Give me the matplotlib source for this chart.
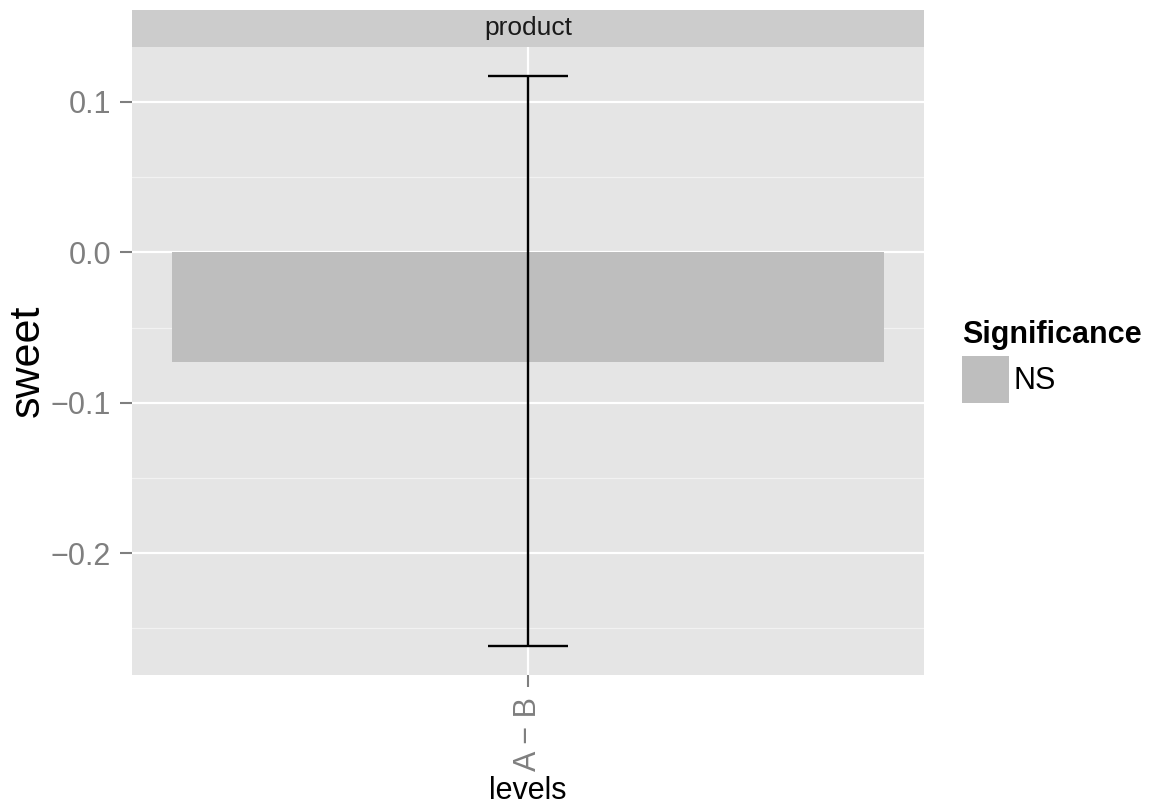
import matplotlib.pyplot as plt
import numpy as np
from matplotlib.ticker import FixedLocator, FuncFormatter

plt.rcParams['font.family'] = ['Liberation Sans', 'DejaVu Sans']

# contrast estimate with its confidence interval
levels = ["A \u2212 B"]
diffs = np.array([-0.0728])
ci_low = np.array([-0.262])
ci_high = np.array([0.1175])
signif = ["NS"]
sig_colors = {"NS": "#BEBEBE"}

W, H = 1156, 807
fig = plt.figure(figsize=(W / 100, H / 100), dpi=100)
ax = fig.add_axes([132 / W, 1 - 675 / H, (924 - 132) / W, (675 - 47) / H])
strip = fig.add_axes([132 / W, 1 - 47 / H, (924 - 132) / W, 37 / H])

x = np.arange(1, len(levels) + 1)
bars = ax.bar(x, diffs, width=0.9, color=[sig_colors[s] for s in signif],
              label=signif[0], zorder=2)
ax.vlines(x, ci_low, ci_high, color='black', lw=1.7, zorder=3)
ax.hlines(np.concatenate([ci_low, ci_high]), np.tile(x - 0.05, 2), np.tile(x + 0.05, 2),
          color='black', lw=1.7, zorder=3)

# ggplot style panel
lo, hi = ci_low.min(), ci_high.max()
pad = (hi - lo) * 0.05
ax.set_ylim(lo - pad, hi + pad)
ax.set_xlim(0.5, len(levels) + 0.5)
ax.set_facecolor('#E5E5E5')
for s in ax.spines.values():
    s.set_visible(False)
ax.yaxis.set_major_locator(FixedLocator([-0.2, -0.1, 0.0, 0.1]))
ax.yaxis.set_minor_locator(FixedLocator([-0.25, -0.15, -0.05, 0.05]))
ax.yaxis.set_major_formatter(FuncFormatter(lambda v, _: f"{v:.1f}".replace("-", "\u2212")))
ax.set_xticks(x)
ax.set_xticklabels(levels, rotation=90)
ax.grid(which='major', color='white', lw=1.6)
ax.grid(which='minor', axis='y', color='#F2F2F2', lw=0.9)
ax.set_axisbelow(True)
ax.tick_params(which='major', length=8.6, width=1.5, color='#7F7F7F',
               labelcolor='#7F7F7F', labelsize=22)
ax.tick_params(axis='y', pad=6.5)
ax.tick_params(axis='x', pad=7)
ax.tick_params(which='minor', length=0)
ax.set_ylabel('sweet', fontsize=31, labelpad=2)
ax.set_xlabel('levels', fontsize=22, labelpad=4)

# facet strip
strip.set_facecolor('#CCCCCC')
strip.set_xticks([])
strip.set_yticks([])
for s in strip.spines.values():
    s.set_visible(False)
strip.text(0.5, 0.5, 'product', ha='center', va='center', fontsize=19, color='#1A1A1A',
           transform=strip.transAxes)

leg = ax.legend(handles=[bars], labels=signif, title='Significance',
                loc='upper left', bbox_to_anchor=(962 / W, 1 - 320 / H),
                bbox_transform=fig.transFigure, frameon=False, fontsize=22,
                title_fontproperties={'weight': 'bold', 'size': 22},
                handlelength=1.54, handleheight=1.99, handletextpad=0.15,
                labelspacing=0.2, borderpad=0, borderaxespad=0, alignment='left')

fig.savefig('out.png', dpi=100)
